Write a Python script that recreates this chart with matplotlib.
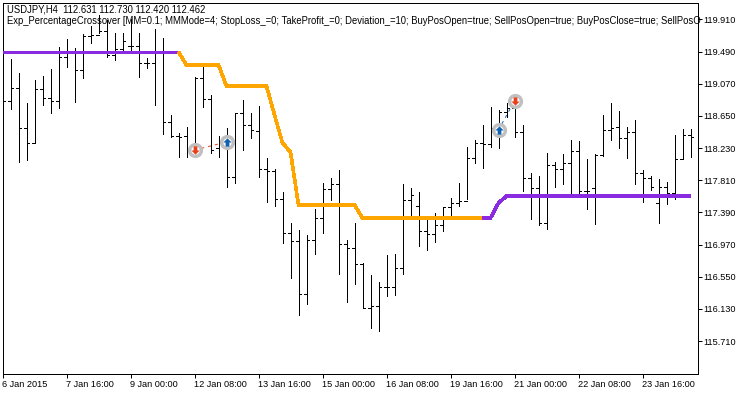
import matplotlib
matplotlib.use("Agg")
import matplotlib.pyplot as plt
import numpy as np

highs = [119.055, 119.394, 119.211, 118.819, 119.120, 119.172, 119.264, 119.551, 119.656, 119.538,
         119.721, 119.825, 119.969, 119.904, 119.734, 119.734, 119.917, 119.734, 119.407, 119.786,
         119.669, 118.663, 118.428, 118.506, 119.159, 119.290, 118.924, 118.388, 118.493, 118.689,
         118.859, 118.689, 118.780, 118.101, 117.957, 117.657, 117.252, 117.160, 117.095, 117.435,
         117.774, 117.840, 117.944, 117.030, 117.252, 116.729, 116.572, 116.481, 116.834, 116.847,
         117.761, 117.709, 117.657, 117.304, 117.382, 117.461, 117.578, 117.774, 118.245, 118.336,
         118.532, 118.767, 118.728, 118.819, 118.754, 118.532, 117.905, 117.866, 118.166, 118.049,
         118.153, 118.336, 118.323, 118.088, 118.153, 118.663, 118.819, 118.715, 118.506, 118.597,
         117.944, 117.866, 117.827, 117.787, 118.401, 118.480, 118.480]
lows = [118.689, 118.741, 118.049, 118.075, 118.297, 118.793, 118.689, 118.754, 119.290, 118.832,
        119.146, 119.603, 119.734, 119.420, 119.381, 119.486, 119.486, 119.159, 119.277, 118.793,
        118.414, 118.375, 118.114, 118.114, 118.114, 118.767, 118.166, 118.114, 117.722, 117.774,
        118.205, 118.362, 117.853, 117.526, 117.474, 116.990, 116.533, 116.050, 116.194, 116.847,
        117.121, 117.552, 116.585, 116.220, 116.455, 116.141, 115.880, 115.841, 116.298, 116.311,
        116.585, 117.343, 116.951, 116.899, 117.004, 117.147, 117.356, 117.474, 117.565, 118.036,
        117.970, 118.245, 118.232, 118.637, 118.375, 117.670, 117.304, 117.226, 117.173, 117.722,
        117.761, 117.618, 117.644, 117.435, 117.239, 118.127, 118.336, 118.232, 118.101, 117.761,
        117.526, 117.683, 117.252, 117.500, 117.565, 118.088, 118.114]
opens = [118.846, 118.846, 119.015, 118.493, 118.297, 119.002, 118.885, 118.846, 119.420, 119.486,
         119.251, 119.695, 119.708, 119.760, 119.446, 119.525, 119.564, 119.564, 119.342, 119.342,
         119.499, 118.571, 118.388, 118.388, 118.205, 119.146, 118.872, 118.232, 118.310, 117.853,
         118.689, 118.532, 118.454, 117.957, 117.931, 117.565, 117.121, 117.017, 116.324, 117.030,
         117.317, 117.696, 117.761, 116.977, 116.925, 116.716, 116.141, 116.167, 116.416, 116.416,
         116.664, 117.552, 117.474, 117.147, 117.108, 117.226, 117.461, 117.513, 117.539, 118.101,
         118.297, 118.284, 118.493, 118.702, 118.754, 118.441, 117.840, 117.709, 117.252, 118.010,
         117.957, 118.036, 118.192, 117.670, 117.709, 118.140, 118.467, 118.506, 118.362, 118.441,
         117.905, 117.840, 117.513, 117.722, 117.644, 118.088, 118.401]
closes = [118.846, 119.015, 118.493, 118.297, 119.002, 118.885, 118.846, 119.420, 119.486, 119.251,
          119.695, 119.708, 119.760, 119.446, 119.525, 119.629, 119.564, 119.342, 119.342, 119.486,
          118.571, 118.388, 118.375, 118.205, 119.146, 118.872, 118.205, 118.310, 117.853, 118.689,
          118.532, 118.467, 117.957, 117.931, 117.565, 117.121, 117.017, 116.324, 117.030, 117.317,
          117.696, 117.761, 116.977, 116.925, 116.716, 116.141, 116.167, 116.416, 116.416, 116.664,
          117.552, 117.618, 117.147, 117.108, 117.226, 117.461, 117.513, 117.539, 118.101, 118.297,
          118.284, 118.493, 118.702, 118.754, 118.441, 117.840, 117.709, 117.252, 118.010, 117.957,
          118.036, 118.192, 117.670, 117.670, 118.140, 118.467, 118.493, 118.362, 118.441, 117.905,
          117.840, 117.722, 117.722, 117.644, 118.088, 118.401, 118.375]

# indicator value for each bar
trend = [119.486] * 23 + [119.316] * 5 + [119.042] * 6 + [118.663, 118.297, 118.179] \
    + [117.487] * 8 + [117.317] * 17 + [117.513, 117.604] + [117.604] * 23
first_orange = 22
last_orange = 60

trade_bars = [24, 28, 62, 64]
trade_prices = [118.205, 118.310, 118.467, 118.846]
trade_dirs = ["sell", "buy", "buy", "sell"]

price_ticks = [119.910, 119.490, 119.070, 118.650, 118.230, 117.810, 117.390, 116.970, 116.550, 116.130, 115.710]
time_labels = ["6 Jan 2015", "7 Jan 16:00", "9 Jan 00:00", "12 Jan 08:00", "13 Jan 16:00", "15 Jan 00:00",
               "16 Jan 08:00", "19 Jan 16:00", "21 Jan 00:00", "22 Jan 08:00", "23 Jan 16:00"]
header = "USDJPY,H4  112.631 112.730 112.420 112.462"
expert = ("Exp_PercentageCrossover [MM=0.1; MMMode=4; StopLoss_=0; TakeProfit_=0; Deviation_=10; "
          "BuyPosOpen=true; SellPosOpen=true; BuyPosClose=true; SellPosO")

PX = 0.72
plt.rcParams["font.family"] = ["Liberation Sans", "DejaVu Sans"]
plt.rcParams["font.size"] = 6.6

fig = plt.figure(figsize=(7.5, 3.94), dpi=100)
ax = fig.add_axes([2.5 / 750, 20.5 / 394, 695 / 750, 371 / 394])
ax.set_xlim(0, 695 / 8)
ax.set_ylim(115.286, 120.132)

bars = np.arange(len(highs))
ax.vlines(bars, lows, highs, color="k", lw=PX, antialiased=False, zorder=2)
ax.hlines(opens, bars - 0.3, bars, color="k", lw=PX, antialiased=False, zorder=2)
ax.hlines(closes, bars, bars + 0.3, color="k", lw=PX, antialiased=False, zorder=2)

purple = "#8A2BE2"
orange = "#FFA500"
trend = np.array(trend)
ax.plot(bars[:first_orange + 1], trend[:first_orange + 1], color=purple, lw=2.6 * PX, zorder=3,
        solid_capstyle="butt", antialiased=False)
ax.plot(bars[first_orange:last_orange + 1], trend[first_orange:last_orange + 1], color=orange, lw=2.6 * PX, zorder=3,
        solid_capstyle="butt", antialiased=False)
ax.plot(bars[last_orange:], trend[last_orange:], color=purple, lw=2.6 * PX, zorder=3,
        solid_capstyle="butt", antialiased=False)

# dashed lines between the entry and the exit of each trade
ax.plot(trade_bars[:2], trade_prices[:2], color="#E8401C", lw=PX, ls=(0, (3, 4)), zorder=4)
ax.plot(trade_bars[2:], trade_prices[2:], color="#1060B0", lw=PX, ls=(0, (3, 4)), zorder=4)

arrow_up = [(-0.45, 0), (-1, 0), (0, 1), (1, 0), (0.45, 0), (0.45, -1), (-0.45, -1)]
arrow_down = [(x, -y) for x, y in arrow_up]
for bar, price, kind in zip(trade_bars, trade_prices, trade_dirs):
    ax.scatter(bar, price, s=72, facecolor="white", edgecolor="#C0C0C0", linewidth=3.4 * PX, zorder=5)
    if kind == "buy":
        ax.scatter(bar, price, s=36, marker=arrow_up, color="#1060B0", linewidth=0, zorder=6)
    else:
        ax.scatter(bar, price, s=36, marker=arrow_down, color="#E8401C", linewidth=0, zorder=6)

ax.yaxis.tick_right()
ax.set_yticks(price_ticks)
ax.set_yticklabels([f"{p:.3f}" for p in price_ticks])
ax.set_xticks(np.arange(len(time_labels)) * 8)
ax.set_xticklabels(time_labels, ha="left")
ax.tick_params(axis="y", length=4 * PX, width=PX, pad=1.5)
ax.tick_params(axis="x", length=4 * PX, width=PX, pad=1.5)
for spine in ax.spines.values():
    spine.set_linewidth(PX)

fig.text(7 / 750, 1 - 9.5 / 394, header, va="center", ha="left", fontsize=6.85)
fig.text(7 / 750, 1 - 21 / 394, expert, va="center", ha="left", fontsize=6.85)

fig.savefig("out.png", dpi=100)
